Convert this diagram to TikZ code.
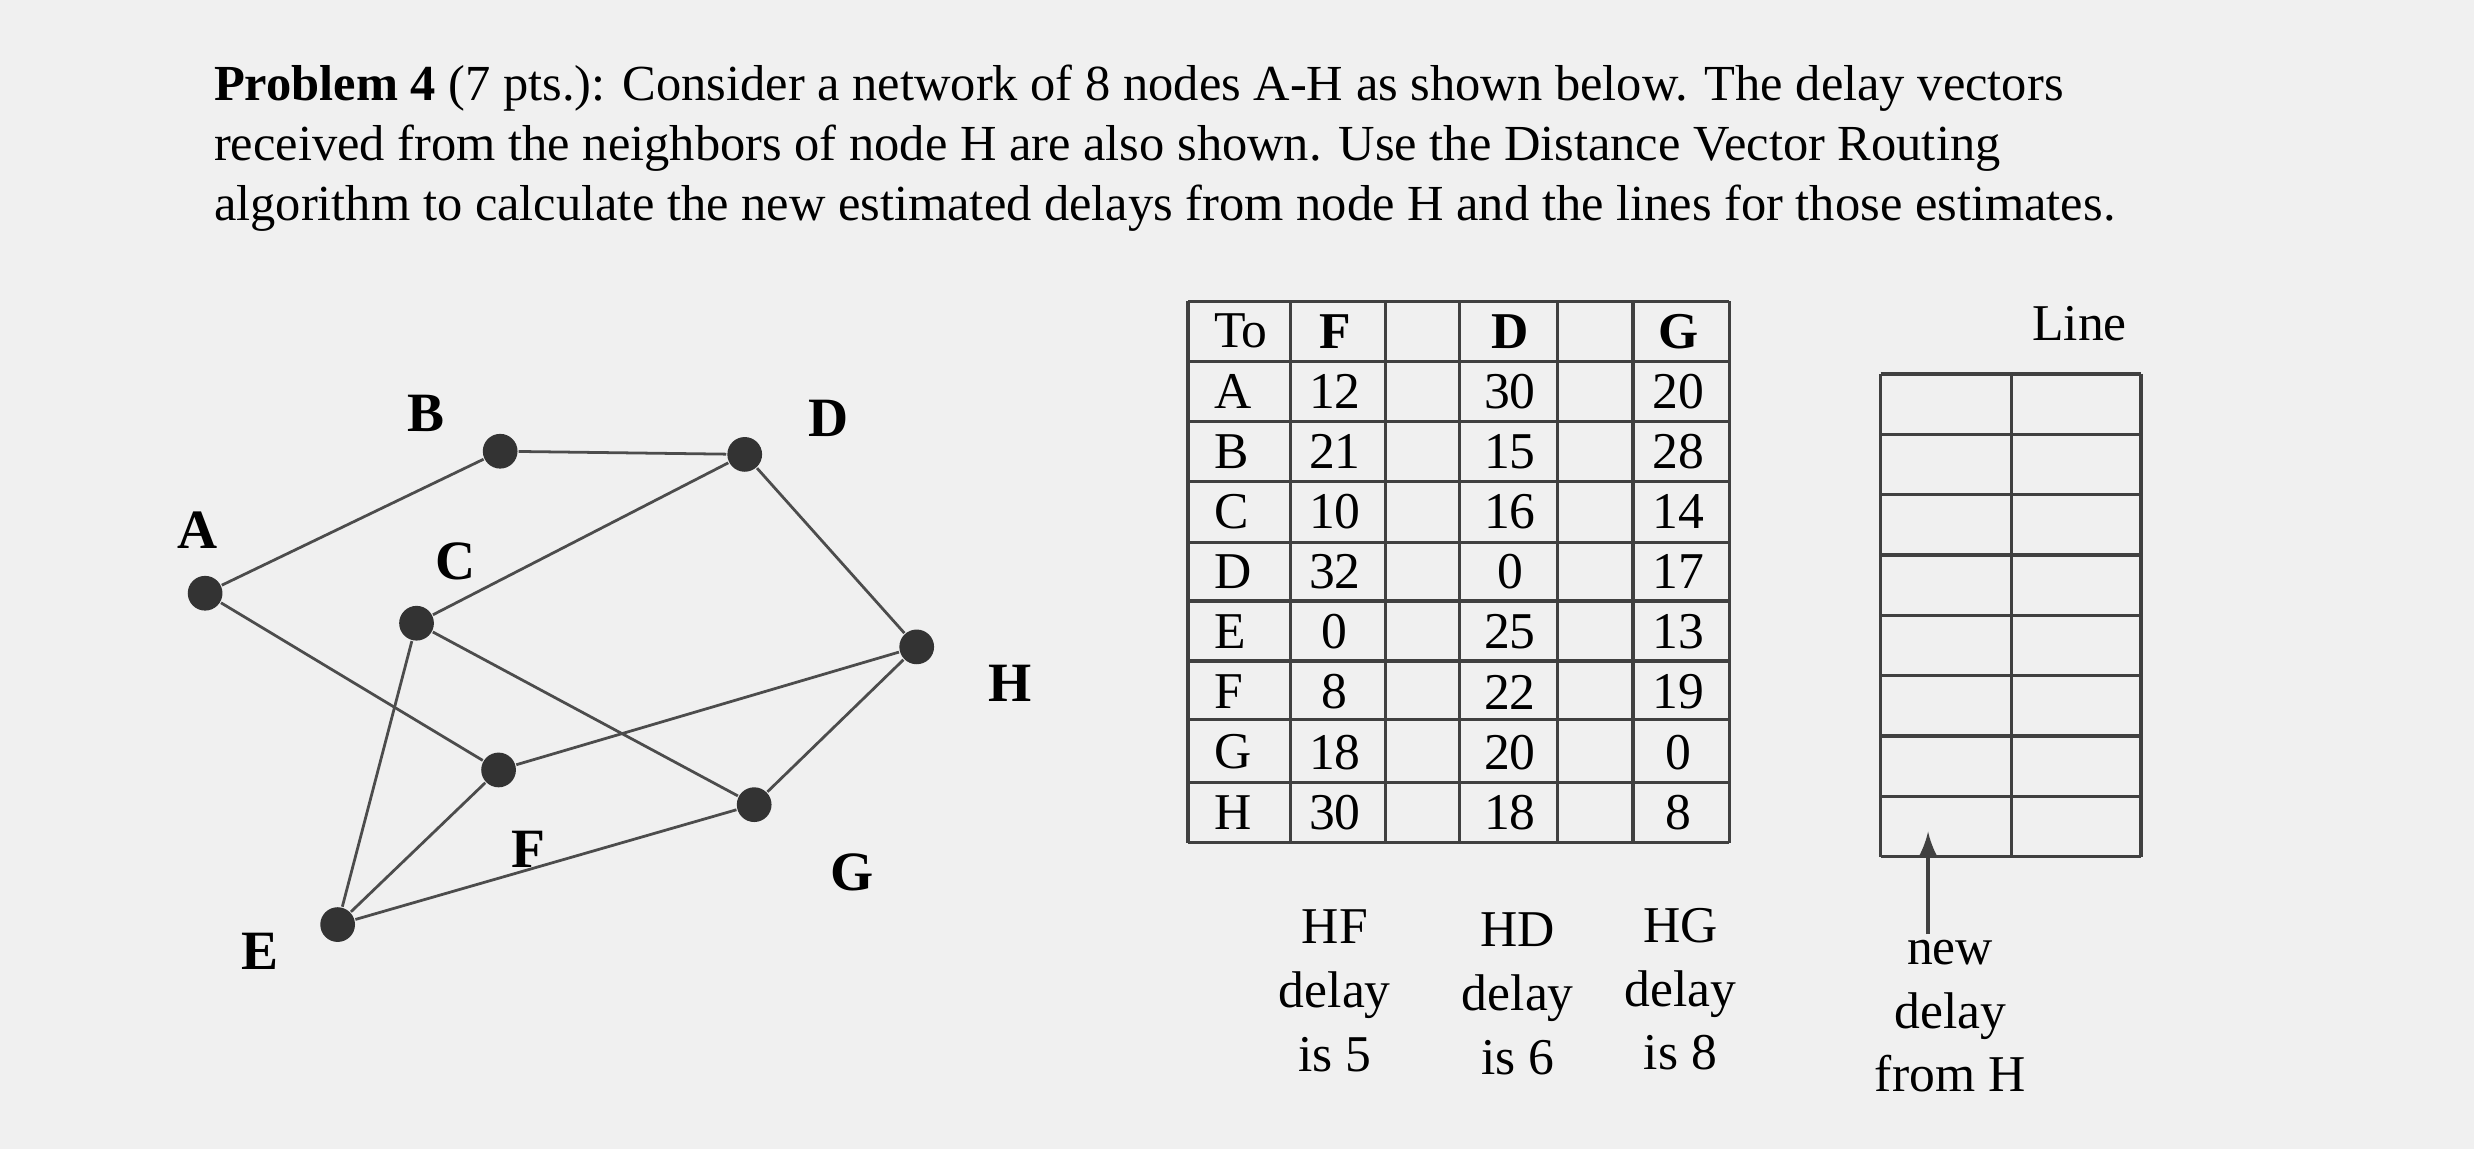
\documentclass[tikz,border=0pt]{standalone}
\usepackage{fontspec}
\setmainfont{Liberation Serif}
\begin{document}
\begin{tikzpicture}[x=0.01cm,y=-0.01cm,
  vtx/.style={circle,fill=black!80,inner sep=0pt,minimum size=0.22cm},
  lbl/.style={font=\fontsize{10}{12}\selectfont\bfseries},
  edge/.style={draw=black!70,line width=0.5pt},
  txt/.style={font=\fontsize{9.1}{10.8}\selectfont},
  cell/.style={font=\fontsize{9.3}{11}\selectfont}]
\fill[black!6] (0,0) rectangle (1568,728);
\useasboundingbox (0,0) rectangle (1568,728);
\node[txt,anchor=west,align=left,inner sep=0pt] (prob) at (135,94) {\textbf{Problem 4} (7 pts.): Consider a network of 8 nodes A-H as shown below. The delay vectors\\[0pt]received from the neighbors of node H are also shown. Use the Distance Vector Routing\\[0pt]algorithm to calculate the new estimated delays from node H and the lines for those estimates.};
% graph
\node[vtx] (A) at (130,376) {};
\node[vtx] (B) at (317,286) {};
\node[vtx] (C) at (264,395) {};
\node[vtx] (D) at (472,288) {};
\node[vtx] (H) at (581,410) {};
\node[vtx] (F) at (316,488) {};
\node[vtx] (G) at (478,510) {};
\node[vtx] (E) at (214,586) {};
\node[lbl] (lA) at (125,336) {A};
\node[lbl] (lB) at (270,262) {B};
\node[lbl] (lC) at (289,356) {C};
\node[lbl] (lD) at (525,265) {D};
\node[lbl] (lH) at (640,433) {H};
\node[lbl] (lF) at (335,538) {F};
\node[lbl] (lG) at (540,553) {G};
\node[lbl] (lE) at (165,603) {E};
\foreach \a/\b in {A/B,B/D,C/D,A/F,C/G,C/E,F/H,D/H,G/H,E/F,E/G}
  \draw[edge] (\a) -- (\b);
% delay table
\foreach \x in {753,818,878,925,987,1035,1096} \draw[black!75,line width=0.6pt] (\x,191) -- (\x,534);
\foreach \y in {191,229,267,305,344,381,419,456,496,534} \draw[black!75,line width=0.6pt] (753,\y) -- (1096,\y);
\foreach \r/\t/\f/\g [count=\i from 0] in {To/\textbf{F}/\textbf{D}/\textbf{G},A/12/30/20,B/21/15/28,C/10/16/14,D/32/0/17,E/0/25/13,F/8/22/19,G/18/20/0,H/30/18/8}{
  \pgfmathsetmacro\yc{210+38.1*\i}
  \node[cell,anchor=west] (to\i) at (757,\yc) {\r};
  \node[cell] (f\i) at (846,\yc) {\t};
  \node[cell] (d\i) at (957,\yc) {\f};
  \node[cell] (g\i) at (1064,\yc) {\g};
}
\node[cell,align=center] (hf) at (846,628) {HF\\[0.5pt]delay\\[0.5pt]is 5};
\node[cell,align=center] (hd) at (962,630) {HD\\[0.5pt]delay\\[0.5pt]is 6};
\node[cell,align=center] (hg) at (1065,627) {HG\\[0.5pt]delay\\[0.5pt]is 8};
% line table
\foreach \x in {1192,1275,1357} \draw[black!75,line width=0.6pt] (\x,237) -- (\x,543);
\foreach \i in {0,...,8} \draw[black!75,line width=0.6pt] (1192,237+38.25*\i) -- (1357,237+38.25*\i);
\node[cell] (line) at (1318,205) {Line};
\coordinate (arrS) at (1222,592);
\coordinate (arrE) at (1222,527);
\draw[black!75,line width=0.6pt,-latex] (arrS) -- (arrE);
\node[cell,align=center] (nd) at (1236,644) {new\\[0.5pt]delay\\[0.5pt]from H};
\end{tikzpicture}
\end{document}
